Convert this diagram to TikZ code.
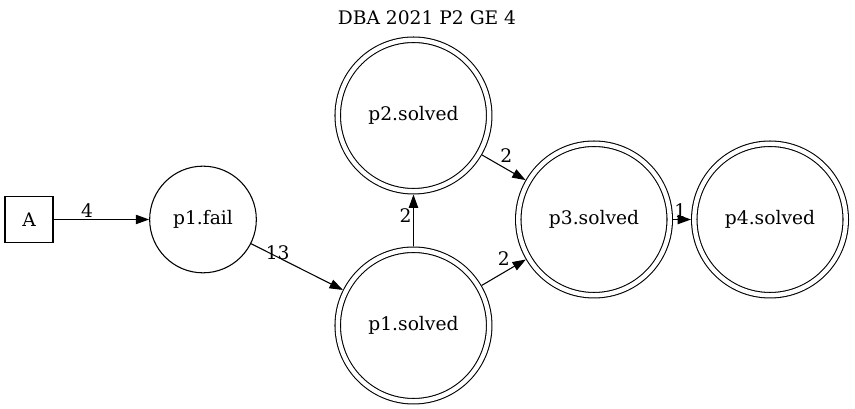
\documentclass[tikz,border=0pt]{standalone}
\usepackage{fontspec}
\setmainfont{DejaVu Serif}
\usetikzlibrary{arrows.meta}

\begin{document}
\begin{tikzpicture}[x=0.75pt,y=0.75pt,->,>={Triangle[length=10pt,width=7pt]},line width=0.8pt,auto,
  every node/.style={font=\fontsize{14pt}{17pt}\selectfont},
  startbox/.style={draw,rectangle,minimum width=36pt,minimum height=35pt,inner sep=0pt},
  failstate/.style={draw,circle,minimum size=80pt,inner sep=0pt},
  solvedstate/.style={draw,circle,double,double distance=3.3pt,minimum size=113.6pt,inner sep=0pt,outer sep=2.45pt},
  lbl/.style={inner sep=1pt}]
\useasboundingbox (0,0) rectangle (855,409);
\node (title) at (427,391) {DBA 2021 P2 GE 4};
\node[startbox] (A) at (29,189.5) {A};
\node[failstate] (p1fail) [node distance=130.5pt,right of=A] {p1.fail};
\node[solvedstate] (p3solved) [node distance=293.25pt,right of=p1fail] {p3.solved};
\node[solvedstate] (p4solved) [node distance=132pt,right of=p3solved] {p4.solved};
\node[solvedstate] (p1solved) [node distance=135.4pt,left of=p3solved,yshift=-79.5pt] {p1.solved};
\node[solvedstate] (p2solved) [node distance=157.5pt,above of=p1solved] {p2.solved};

\path (A) edge node[lbl,pos=0.35] {4} (p1fail);
\path (p1fail) edge node[lbl,pos=0.29,anchor=center,yshift=3pt] {13} (p1solved);
\path (p1solved) edge node[lbl,pos=0.6] {2} (p2solved);
\path (p2solved) edge node[lbl,pos=0.38] {2} (p3solved);
\path (p1solved) edge node[lbl,pos=0.68] {2} (p3solved);
\path (p3solved) edge node[lbl,pos=0.4] {1} (p4solved);
\end{tikzpicture}
\end{document}
